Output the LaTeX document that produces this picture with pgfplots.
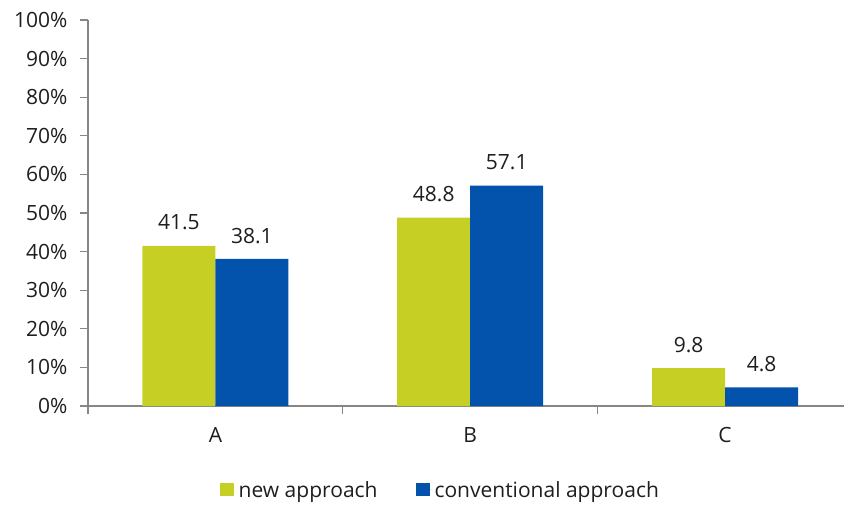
\documentclass[border=0pt]{standalone}
\usepackage{pgfplots}
\pgfplotsset{compat=1.18}
\usetikzlibrary{calc}
\usepackage{fontspec}
\setmainfont{Open Sans}

\definecolor{newc}{RGB}{198,207,35}
\definecolor{convc}{RGB}{3,83,172}
\definecolor{axisgray}{RGB}{134,134,134}
\definecolor{txt}{RGB}{30,30,30}

% square legend swatch with a little room before the text
\pgfplotsset{
  sqlegend/.style={legend image code/.code={%
    \fill[##1] (0pt,-6.5pt) rectangle (14pt,6.5pt);
    \path (0pt,0pt) -- (17pt,0pt);}},
}

\begin{document}
\begin{tikzpicture}[font=\fontsize{21}{25}\selectfont, text=txt]
\begin{axis}[
  name=ax,
  at={(0,0)}, anchor=south west,
  scale only axis, width=756pt, height=386pt,
  ybar=0pt, bar width=73pt,
  xmin=-0.5, xmax=2.4667, ymin=0, ymax=100,
  axis lines*=left,
  axis line style={axisgray, line width=1.2pt},
  tick align=outside, major tick length=8pt,
  tick style={axisgray, line width=1.2pt},
  xtick={-0.5,0.5,1.5,2.5}, xticklabels={},
  extra x ticks={0,1,2}, extra x tick labels={A,B,C},
  extra x tick style={tick style={draw=none}},
  x tick label style={yshift=-10pt},
  ytick={0,10,...,100},
  yticklabel={\pgfmathprintnumber{\tick}\%},
  y tick label style={xshift=-9pt},
  /pgf/number format/assume math mode=true,
  nodes near coords,
  nodes near coords style={anchor=south, yshift=12pt, text=txt,
    /pgf/number format/.cd, fixed, precision=1, fixed zerofill, assume math mode=true},
  legend style={at={(0.466,-0.2176)}, anchor=center, draw=none, fill=none,
    legend columns=2, text=txt,
    /tikz/every even column/.append style={column sep=36pt}},
  clip=false,
]
\addplot[fill=newc, draw=none, sqlegend] coordinates {(0,41.5) (1,48.8) (2,9.8)};
\addplot[fill=convc, draw=none, sqlegend] coordinates {(0,38.1) (1,57.1) (2,4.8)};
\legend{new approach, conventional approach}
\end{axis}
\pgfresetboundingbox
\path[use as bounding box] ($(ax.south west)+(-88pt,-98pt)$) rectangle ($(ax.south west)+(756pt,406pt)$);
\end{tikzpicture}
\end{document}
